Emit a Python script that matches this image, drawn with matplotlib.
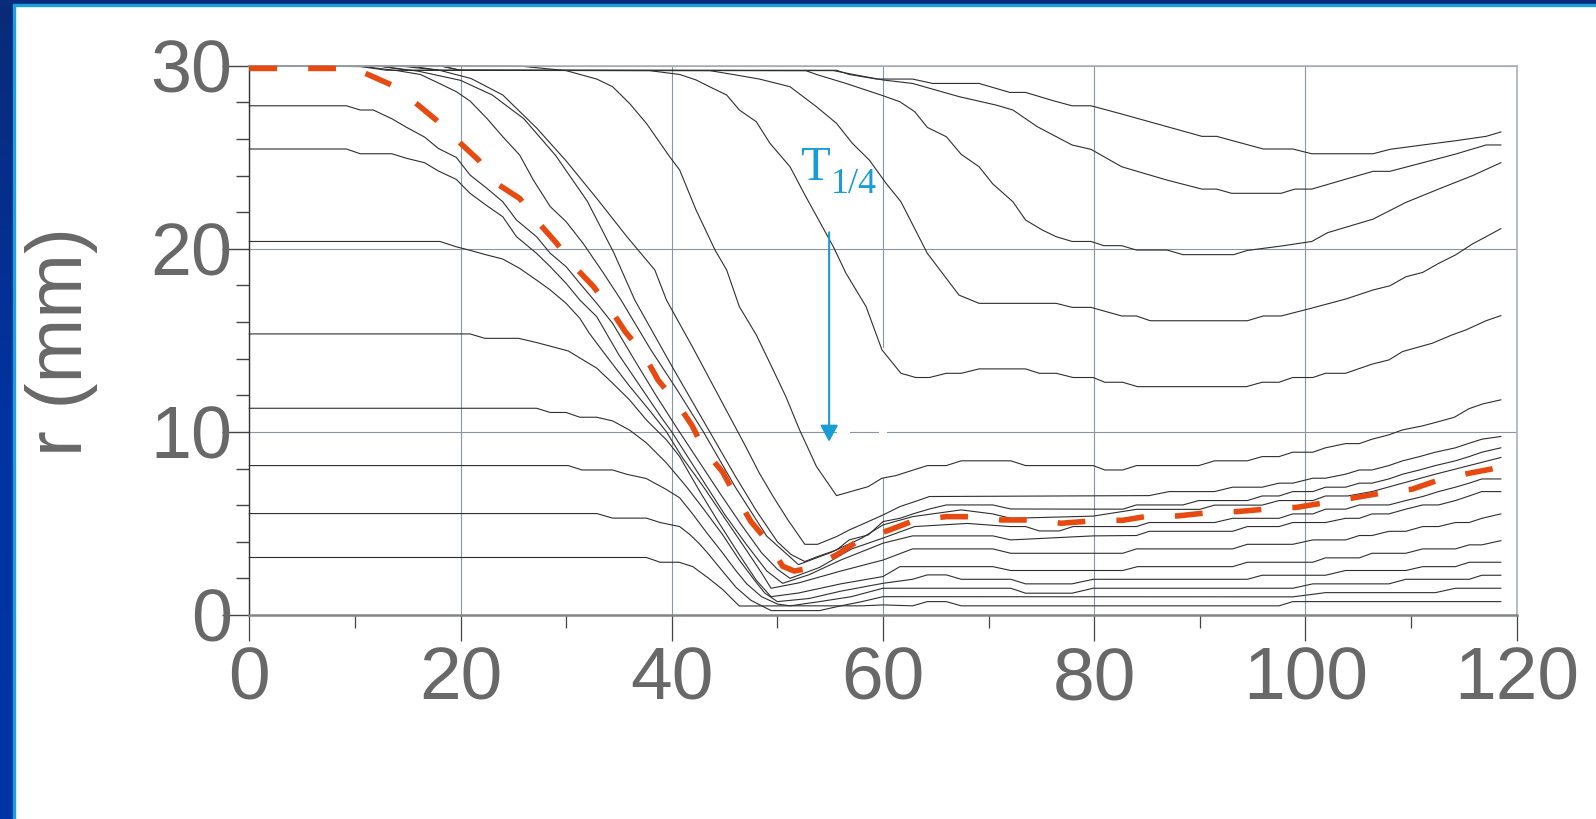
import matplotlib.pyplot as plt
import numpy as np
from matplotlib.patches import Rectangle
from matplotlib.colors import LinearSegmentedColormap
from matplotlib.ticker import MultipleLocator

# --- curves (x = position, r in mm) ---
# curves that start on the wall r = 30
r1_x = [0, 18, 20, 55.6, 56.8, 59.4, 62.8, 64.7, 69.1, 72.0, 73.5, 76.1, 77.9, 79.7, 82.6, 86.9, 90.2, 91.6, 96.0, 98.8, 100.6, 106.4, 108.0, 111.1, 114.2, 117.1, 118.5]
r1_y = [30, 30, 29.75, 29.75, 29.52, 29.27, 29.27, 29.03, 29.03, 28.54, 28.54, 28.09, 27.81, 27.81, 27.36, 26.67, 26.14, 26.14, 25.45, 25.45, 25.19, 25.19, 25.43, 25.67, 25.90, 26.14, 26.38]

r2_x = [0, 18, 20, 55.3, 57.2, 60.0, 62.8, 67.2, 70.7, 72.3, 74.6, 77.9, 79.7, 82.6, 86.9, 90.2, 91.6, 93.0, 97.7, 99.0, 100.6, 103.5, 106.4, 108.0, 111.1, 114.2, 117.1, 118.5]
r2_y = [30, 30, 29.75, 29.73, 29.52, 29.22, 29.03, 28.31, 27.85, 27.58, 26.67, 25.67, 25.43, 24.48, 23.75, 23.26, 23.26, 23.03, 23.03, 23.26, 23.26, 23.75, 24.23, 24.23, 24.70, 25.17, 25.67, 25.67]

r3_x = [0, 15, 18, 52.7, 53.7, 56.5, 60.0, 61.6, 63.0, 64.2, 66.0, 67.4, 69.1, 70.4, 72.3, 73.5, 75.1, 76.4, 77.9, 79.7, 80.9, 82.6, 84.0, 86.9, 88.4, 93.2, 94.5, 97.7, 100.6, 102.1, 106.4, 109.5, 112.6, 115.8, 118.5]
r3_y = [30, 30, 29.75, 29.73, 29.52, 29.03, 28.36, 28.03, 27.49, 26.63, 26.12, 25.16, 24.48, 23.54, 22.57, 21.57, 21.02, 20.66, 20.40, 20.40, 20.17, 20.17, 19.93, 19.93, 19.68, 19.68, 19.91, 20.15, 20.40, 20.88, 21.62, 22.53, 23.26, 23.99, 24.70]

r4_x = [0, 12, 15, 43.6, 45.8, 48.3, 51.2, 53.7, 55.6, 57.1, 58.7, 60.3, 61.7, 64.2, 67.2, 69.1, 76.4, 77.9, 79.7, 82.6, 84.0, 85.3, 94.5, 96.0, 97.7, 100.6, 103.9, 106.4, 108.0, 109.5, 111.1, 112.6, 114.2, 115.8, 117.1, 118.5]
r4_y = [30, 30, 29.75, 29.73, 29.52, 29.27, 28.85, 27.76, 26.85, 25.76, 24.85, 23.57, 22.57, 19.75, 17.47, 17.02, 17.02, 16.80, 16.80, 16.33, 16.33, 16.07, 16.07, 16.33, 16.33, 16.76, 17.27, 17.75, 17.98, 18.47, 18.71, 19.20, 19.66, 20.26, 20.66, 21.10]

r5_x = [0, 10, 13, 37.9, 40.75, 42.3, 43.9, 45.2, 46.4, 48.0, 49.3, 51.2, 52.7, 54.0, 55.3, 56.5, 58.4, 59.9, 61.7, 63.1, 64.4, 66.0, 67.4, 69.1, 73.5, 74.8, 76.4, 78.0, 79.9, 81.0, 82.7, 84.1, 94.4, 95.9, 97.5, 98.8, 100.7, 101.9, 103.8, 106.3, 107.9, 109.2, 112.0, 113.9, 115.2, 117.1, 118.5]
r5_y = [30, 30, 29.75, 29.73, 29.52, 29.22, 28.76, 28.40, 27.58, 26.94, 25.76, 24.48, 22.84, 21.48, 20.11, 18.66, 16.84, 14.48, 13.2, 12.97, 12.97, 13.2, 13.2, 13.44, 13.44, 13.2, 13.2, 12.97, 12.97, 12.71, 12.71, 12.47, 12.47, 12.71, 12.71, 12.97, 12.97, 13.2, 13.2, 13.7, 13.93, 14.39, 14.84, 15.3, 15.57, 16.07, 16.35]

r6_x = [0, 20, 25.6, 30.0, 32.9, 34.4, 36.0, 37.6, 39.8, 40.75, 42.3, 44.1, 45.2, 46.4, 48.0, 49.3, 50.8, 52.1, 53.7, 55.6, 58.6, 59.9, 61.2, 64.2, 66.0, 67.4, 72.1, 73.5, 79.9, 81.0, 82.7, 84.0, 89.9, 91.4, 94.5, 95.9, 97.5, 98.8, 100.7, 101.9, 103.8, 105.1, 106.3, 107.9, 109.2, 111.1, 112.6, 114.1, 115.5, 116.8, 118.5]
r6_y = [30, 30, 29.98, 29.73, 29.27, 28.85, 27.94, 26.85, 25.03, 24.3, 22.12, 19.93, 18.84, 16.84, 15.3, 13.75, 11.93, 10.11, 8.11, 6.52, 7.01, 7.47, 7.61, 8.16, 8.16, 8.42, 8.42, 8.16, 8.16, 7.92, 7.92, 8.16, 8.16, 8.42, 8.42, 8.65, 8.65, 8.89, 8.89, 9.13, 9.36, 9.36, 9.6, 9.84, 10.11, 10.33, 10.56, 10.8, 11.27, 11.53, 11.75]

r7_x = [0, 14, 18, 21, 24, 27.2, 30.0, 32.9, 35.7, 38.4, 39.5, 42, 44.5, 47, 48.3, 49.6, 51.0, 52.6, 53.8, 55.6, 56.8, 58.6, 60.0, 61.6, 63.0, 64.4, 85.2, 87.1, 91.4, 93.1, 95.9, 97.5, 98.8, 100.7, 101.9, 103.8, 105.1, 106.3, 107.9, 109.2, 110.8, 112.3, 114.2, 115.5, 116.7, 118.5]
r7_y = [30, 30, 29.75, 29.3, 28.4, 26.6, 24.8, 22.75, 20.7, 18.84, 17.2, 14.6, 11.9, 9.2, 7.74, 6.47, 5.19, 3.86, 3.86, 4.28, 4.64, 5.1, 5.46, 5.92, 6.19, 6.47, 6.52, 6.74, 6.74, 6.98, 6.98, 7.2, 7.2, 7.47, 7.47, 7.69, 7.92, 7.92, 8.16, 8.42, 8.65, 8.89, 9.13, 9.38, 9.6, 9.75]

r8_x = [0, 12, 16, 20, 23, 26, 29, 32, 34.5, 36.5, 40, 43.6, 46, 48, 50, 51.3, 52.6, 53.8, 55.6, 56.8, 58.6, 60.0, 61.6, 63.0, 64.4, 66.0, 70.4, 72.1, 79.9, 82.7, 84.0, 88.4, 89.9, 94.5, 95.9, 97.5, 98.8, 100.7, 101.9, 103.8, 105.1, 106.3, 107.9, 109.2, 110.8, 112.3, 114.2, 115.5, 116.7, 118.5]
r8_y = [30, 30, 29.7, 29.2, 28.4, 27.1, 25.1, 22.6, 19.8, 17.2, 13.6, 10.0, 7.6, 5.7, 4.0, 3.3, 2.92, 3.19, 3.55, 4.1, 4.37, 5.1, 5.28, 5.55, 5.79, 6.01, 6.01, 5.79, 5.78, 5.78, 6.01, 6.01, 6.25, 6.25, 6.5, 6.5, 6.74, 6.74, 6.98, 6.98, 7.2, 7.2, 7.43, 7.69, 7.92, 8.16, 8.42, 8.65, 8.89, 9.13]

r9_x = [0, 10.8, 14.0, 16.2, 18.0, 19.6, 20.9, 22.5, 24.0, 25.6, 26.9, 28.5, 30.0, 31.6, 33.5, 35.2, 38, 40.5, 43, 46, 49, 52, 55, 58, 60.0, 62.8, 67.4, 70.4, 72.1, 79.9, 84, 90, 91.4, 95.9, 97.5, 100.7, 101.9, 104, 106.3, 109.2, 112.3, 115.5, 118.5]
r9_y = [30, 29.95, 29.73, 29.52, 29.03, 28.58, 28.07, 27.12, 26.12, 25.12, 23.75, 22.3, 21.48, 20.3, 18.7, 17.2, 14.5, 12.3, 10.0, 7.0, 4.3, 2.75, 3.4, 4.2, 4.92, 5.37, 5.74, 5.52, 5.28, 5.4, 5.77, 5.77, 6.0, 6.0, 6.25, 6.25, 6.5, 6.5, 6.74, 7.2, 7.69, 8.16, 8.6]

# curves that start below the wall
r10_x = [0, 9.2, 10.5, 11.74, 13.5, 14.9, 16.6, 17.9, 19.6, 20.9, 22.5, 24.0, 25.3, 27.2, 28.5, 30.0, 31.3, 32.9, 34.4, 36.5, 38.5, 40.5, 42.5, 44.5, 46.5, 48.5, 50, 51.2, 54, 57, 60, 63, 68, 72, 73.5, 74.8, 76.7, 78, 80.5, 84.0, 85.2, 91.4, 93.1, 97.5, 98.8, 100.7, 101.9, 103.8, 105.1, 107.9, 109.5, 111.1, 112.6, 114.2, 115.5, 116.7, 118.5]
r10_y = [27.81, 27.81, 27.58, 27.58, 27.1, 26.63, 26.1, 25.48, 24.99, 24.03, 23.3, 22.57, 21.57, 20.66, 19.75, 19.02, 18.11, 17.02, 15.93, 13.9, 12.0, 10.2, 8.45, 6.7, 5.0, 3.4, 2.5, 2.0, 2.6, 3.6, 4.2, 4.83, 5.0, 4.83, 4.83, 4.59, 4.59, 4.83, 4.83, 4.83, 5.05, 5.05, 5.28, 5.28, 5.52, 5.52, 5.78, 5.78, 6.01, 6.01, 6.25, 6.47, 6.74, 6.98, 7.2, 7.43, 7.43]

r11_x = [0, 9.2, 10.5, 13.5, 14.9, 16.6, 17.9, 19.6, 20.9, 22.5, 24.0, 25.3, 27.2, 28.5, 30.0, 31.3, 32.9, 35, 37, 39, 40, 41, 43, 45, 47, 49, 50.5, 53, 56, 60, 62.8, 70.4, 72.1, 79.9, 84.0, 85.2, 93.1, 94.5, 97.5, 98.8, 101.9, 103.8, 105.1, 106.3, 107.9, 109.5, 111.1, 112.6, 114.2, 115.5, 116.7, 118.5]
r11_y = [25.45, 25.45, 25.19, 25.19, 24.94, 24.7, 24.25, 23.79, 23.03, 22.35, 21.75, 20.66, 19.75, 19.02, 18.11, 17.2, 16.29, 14.2, 12.5, 10.8, 10.0, 9.1, 7.3, 5.5, 3.9, 2.4, 1.73, 2.2, 3.0, 3.92, 4.32, 4.32, 4.1, 4.32, 4.34, 4.57, 4.57, 4.83, 4.83, 5.05, 5.05, 5.28, 5.28, 5.52, 5.52, 5.78, 6.01, 6.01, 6.25, 6.5, 6.74, 6.74]

r12_x = [0, 18.05, 19.6, 21, 22.5, 24.0, 25.6, 27.2, 28.5, 30.0, 31.3, 32.2, 34, 36, 38, 39.5, 41, 43, 45, 47, 48.5, 49.4, 52, 56, 60, 62.8, 70.4, 72.1, 82.7, 84.0, 93.1, 94.5, 98.8, 100.7, 103.8, 105.1, 106.3, 107.9, 109.5, 111.1, 112.6, 114.2, 115.5, 116.7, 118.5]
r12_y = [20.4, 20.4, 20.11, 19.9, 19.66, 19.44, 18.93, 18.29, 17.75, 17.02, 16.2, 15.38, 14.0, 12.5, 11.1, 10.0, 8.6, 7.0, 5.3, 3.6, 2.3, 1.46, 1.75, 2.4, 3.0, 3.61, 3.61, 3.37, 3.37, 3.61, 3.61, 3.86, 3.86, 4.1, 4.1, 4.34, 4.34, 4.57, 4.57, 4.83, 4.83, 5.05, 5.05, 5.28, 5.52]

r13_x = [0, 20.9, 22.3, 25.5, 27.2, 30.2, 32.9, 34.4, 36.0, 37.6, 39.5, 40.75, 42.6, 44.5, 46.5, 48, 49.4, 52, 56, 60, 61.6, 70.4, 72.1, 82.7, 84.1, 93.1, 94.5, 100.7, 101.9, 105.1, 106.3, 109.5, 111.1, 114.2, 115.5, 116.7, 118.5]
r13_y = [15.35, 15.35, 15.11, 15.11, 14.88, 14.42, 13.48, 12.66, 11.75, 10.65, 9.56, 8.65, 6.8, 5.0, 3.2, 1.9, 1.0, 1.2, 1.7, 2.1, 2.64, 2.64, 2.43, 2.43, 2.64, 2.64, 2.88, 2.88, 3.12, 3.12, 3.37, 3.37, 3.61, 3.61, 3.83, 3.83, 4.06]

r14_x = [0, 27.2, 28.5, 30, 31.3, 32.9, 34.4, 36.0, 37.6, 39.5, 41.4, 43.0, 44.8, 46.4, 47.7, 48.8, 50, 53, 56, 60, 62.8, 64.2, 66.0, 67.4, 72.1, 73.5, 77.9, 79.9, 94.5, 95.9, 101.9, 103.8, 109.5, 111.1, 114.2, 115.5, 118.5]
r14_y = [11.29, 11.29, 11.06, 11.06, 10.8, 10.8, 10.6, 10.1, 9.4, 8.3, 7.0, 5.8, 4.4, 3.0, 2.0, 1.2, 0.73, 0.9, 1.3, 1.73, 1.95, 2.19, 2.19, 1.95, 1.95, 1.7, 1.7, 1.95, 1.95, 2.17, 2.17, 2.43, 2.43, 2.64, 2.64, 2.88, 2.88]

r15_x = [0, 30.2, 31.5, 34.4, 35.7, 37.6, 39.5, 40.75, 42.0, 43.3, 44.8, 46.1, 47.1, 48.5, 50, 51.2, 54, 57, 60, 72.1, 73.5, 77.9, 79.9, 98.8, 100.7, 107.9, 109.5, 115.5, 116.7, 118.5]
r15_y = [8.16, 8.16, 7.92, 7.92, 7.69, 7.45, 6.85, 6.4, 5.5, 4.5, 3.4, 2.4, 1.7, 1.0, 0.6, 0.5, 0.73, 1.0, 1.46, 1.46, 1.19, 1.19, 1.46, 1.46, 1.7, 1.7, 1.95, 1.95, 2.17, 2.17]

r16_x = [0, 32.9, 34.4, 37.6, 38.9, 40.75, 41.7, 42.6, 43.3, 44.8, 46.1, 47.5, 49.4, 54, 56, 58, 60, 98.8, 101.9, 112.3, 114.2, 118.5]
r16_y = [5.54, 5.54, 5.29, 5.29, 5.05, 4.83, 4.4, 3.9, 3.45, 2.4, 1.5, 0.8, 0.24, 0.24, 0.5, 0.73, 1.0, 0.99, 1.22, 1.22, 1.46, 1.46]

r17_x = [0, 37.6, 38.9, 40.7, 42.0, 43.5, 44.8, 46.4, 51.2, 58, 60, 62.8, 64.2, 66.0, 67.4, 97.5, 98.8, 118.5]
r17_y = [3.14, 3.14, 2.88, 2.88, 2.64, 2.0, 1.4, 0.49, 0.5, 0.5, 0.55, 0.5, 0.73, 0.73, 0.5, 0.5, 0.73, 0.73]

# the dashed orange curve
orange_x = [0, 10.3, 11.0, 13.5, 15.8, 17.7, 20.0, 21.7, 23.4, 25.6, 27.3, 29.1, 30.8, 32.6, 34.3, 35.6, 37.3, 38.7, 40.4, 41.9, 43.1, 44.8, 46.1, 47.5, 49.1, 50.5, 51.6, 53.0, 55.6, 57.8, 60.6, 63.1, 66.0, 68.8, 71.2, 74.3, 76.9, 80.5, 82.7, 85.2, 87.9, 91.0, 93.6, 96.2, 99.2, 101.9, 104.4, 107.1, 110.1, 112.8, 115.5, 118.5]
orange_y = [29.85, 29.85, 29.58, 28.94, 27.94, 27.03, 25.76, 24.85, 23.57, 22.75, 21.48, 20.3, 19.02, 17.93, 16.6, 15.47, 14.29, 12.83, 11.65, 10.37, 9.0, 7.82, 6.46, 5.1, 4.0, 2.66, 2.4, 2.55, 3.28, 4.1, 4.64, 5.19, 5.37, 5.37, 5.19, 5.19, 5.01, 5.17, 5.17, 5.41, 5.41, 5.6, 5.65, 5.78, 5.88, 6.14, 6.38, 6.65, 6.87, 7.41, 7.74, 8.07]

x_ticks = [0, 20, 40, 60, 80, 100, 120]
y_ticks = [0, 10, 20, 30]

kurvor = [(r1_x, r1_y), (r2_x, r2_y), (r3_x, r3_y), (r4_x, r4_y), (r5_x, r5_y),
          (r6_x, r6_y), (r7_x, r7_y), (r8_x, r8_y), (r9_x, r9_y), (r10_x, r10_y),
          (r11_x, r11_y), (r12_x, r12_y), (r13_x, r13_y), (r14_x, r14_y),
          (r15_x, r15_y), (r16_x, r16_y), (r17_x, r17_y)]

plt.rcParams['font.family'] = ['Liberation Sans', 'DejaVu Sans']
grey_txt = '#686868'
blue_txt = '#1a9cd6'

fig = plt.figure(figsize=(15.96, 8.19), dpi=100)
ax = fig.add_axes([0.1562, 0.2491, 0.7941, 0.6707])

for kx, ky in kurvor:
    ax.plot(kx, ky, color='#2e2e2e', lw=0.8, zorder=2, clip_on=False)

ax.plot(orange_x, orange_y, color='#e64a10', lw=4.0, dashes=(5.0, 5.6), zorder=3, clip_on=False)

# white patches where the original hides the grid
ax.add_patch(Rectangle((59.6, 7.5), 0.8, 7.1, fc='white', ec='none', zorder=1))
ax.add_patch(Rectangle((55.6, 9.75), 1.3, 0.5, fc='white', ec='none', zorder=1))

# T 1/4 label with arrow
ax.text(52.2, 23.76, 'T', family='Liberation Serif', fontsize=35, color=blue_txt, ha='left', va='baseline')
ax.text(55.1, 23.05, '1/4', family='Liberation Serif', fontsize=26, color=blue_txt, ha='left', va='baseline')
ax.annotate('', xy=(54.9, 9.46), xytext=(54.9, 20.9),
            arrowprops=dict(arrowstyle='-|>,head_width=0.27,head_length=0.5', color=blue_txt,
                            lw=1.5, shrinkA=0, shrinkB=0, mutation_scale=20))

ax.set_xlim(0, 120)
ax.set_ylim(0, 30)
ax.set_xticks(x_ticks)
ax.set_yticks(y_ticks)
ax.set_xticklabels([str(t) for t in x_ticks])
ax.set_yticklabels([str(t) for t in y_ticks])
ax.xaxis.set_minor_locator(MultipleLocator(10))
ax.yaxis.set_minor_locator(MultipleLocator(2))

ax.set_axisbelow(True)
ax.grid(which='major', color='#8a95a1', lw=0.8)
ax.tick_params(axis='y', which='major', length=19.4, width=1.0, color='#444444', pad=-7,
               labelsize=53, labelcolor=grey_txt)
ax.tick_params(axis='y', which='minor', length=9.4, width=1.0, color='#444444')
ax.tick_params(axis='x', which='major', length=18.7, width=0.9, color='#444444', pad=3,
               labelsize=54, labelcolor=grey_txt)
ax.tick_params(axis='x', which='minor', length=9.4, width=0.9, color='#444444')

ax.spines['left'].set_color('#333333')
ax.spines['left'].set_linewidth(1.0)
ax.spines['bottom'].set_color('#858585')
ax.spines['bottom'].set_linewidth(1.8)
for s in ['top', 'right']:
    ax.spines[s].set_color('#aab2bb')
    ax.spines[s].set_linewidth(1.2)

fig.text(82 / 1596, 1 - 341 / 819, 'r (mm)', rotation=90, rotation_mode='anchor',
         ha='center', va='baseline', fontsize=56, color=grey_txt)

# blue slide frame (left and top)
bax = fig.add_axes([0, 0, 13 / 1596, 1], zorder=20)
grad = np.linspace(0, 1, 200).reshape(-1, 1)
cmap = LinearSegmentedColormap.from_list('ram', ['#0b2a78', '#0033a0', '#0035a6'])
bax.imshow(grad, aspect='auto', cmap=cmap, extent=[0, 1, 0, 1])
bax.axis('off')
fig.add_artist(Rectangle((13 / 1596, 0), 2 / 1596, 1, color='#1aa0dc', transform=fig.transFigure, zorder=21))
fig.add_artist(Rectangle((0, 1 - 4 / 819), 1, 4 / 819, color='#0a2c7c', transform=fig.transFigure, zorder=21))
fig.add_artist(Rectangle((13 / 1596, 1 - 6 / 819), 1, 2 / 819, color='#1aa0dc', transform=fig.transFigure, zorder=21))

fig.savefig('out.png', dpi=100)
